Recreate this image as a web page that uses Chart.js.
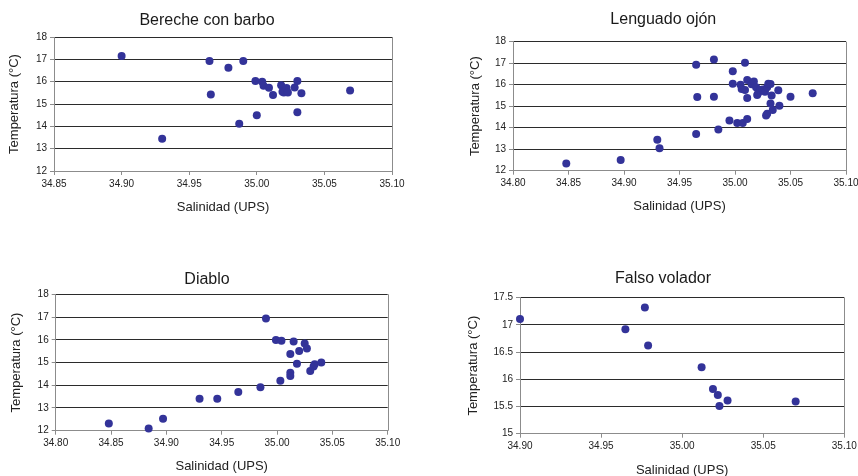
<!DOCTYPE html>
<html>
<head>
<meta charset="utf-8">
<script src="https://cdn.jsdelivr.net/npm/chart.js@4.4.0/dist/chart.umd.min.js"></script>
<style>
body { margin: 0; background: #fff; overflow: hidden; width: 858px; height: 476px; position: relative; }
canvas { position: absolute; }
</style>
</head>
<body>
<canvas id="c1" width="430" height="230" style="left:0px;top:0px"></canvas>
<canvas id="c2" width="428" height="230" style="left:430px;top:0px"></canvas>
<canvas id="c3" width="430" height="233" style="left:0px;top:245px"></canvas>
<canvas id="c4" width="428" height="233" style="left:430px;top:245px"></canvas>
<script>
// titles
const titles = ["Bereche con barbo", "Lenguado ojón", "Diablo", "Falso volador"];
const xTitle = "Salinidad (UPS)";
const yTitle = "Temperatura (°C)";

// tick values
const xTicksA = [34.85, 34.90, 34.95, 35.00, 35.05, 35.10];
const xTicksB = [34.80, 34.85, 34.90, 34.95, 35.00, 35.05, 35.10];
const xTicksC = [34.90, 34.95, 35.00, 35.05, 35.10];
const yTicksA = [12, 13, 14, 15, 16, 17, 18];
const yTicksB = [15, 15.5, 16, 16.5, 17, 17.5];

// Bereche con barbo
const berecheSal = [34.900, 34.930, 34.965, 34.966, 34.979, 34.990, 34.987, 34.999, 35.000, 35.004, 35.005, 35.009,
  35.012, 35.018, 35.019, 35.020, 35.022, 35.023, 35.028, 35.030, 35.033, 35.030, 35.069];
const berecheTemp = [17.15, 13.44, 16.93, 15.43, 16.62, 16.93, 14.12, 16.03, 14.50, 16.00, 15.82, 15.73,
  15.40, 15.84, 15.55, 15.52, 15.72, 15.52, 15.74, 16.03, 15.48, 14.63, 15.60];

// Lenguado ojón
const lenguadoSal = [34.848, 34.897, 34.930, 34.932, 34.965, 34.966, 34.965, 34.981, 34.981, 34.985, 34.995, 34.998,
  34.998, 35.002, 35.005, 35.006, 35.007, 35.009, 35.009, 35.011, 35.011, 35.011, 35.015, 35.017, 35.019, 35.020,
  35.021, 35.023, 35.025, 35.027, 35.029, 35.030, 35.032, 35.033, 35.032, 35.034, 35.028, 35.029, 35.039, 35.040,
  35.050, 35.070];
const lenguadoTemp = [12.33, 12.50, 13.44, 13.04, 16.93, 15.43, 13.71, 17.17, 15.44, 13.92, 14.33, 16.62,
  16.05, 14.22, 16.00, 15.80, 14.22, 17.02, 15.75, 16.22, 15.38, 14.40, 16.02, 16.15, 15.88, 15.52,
  15.62, 15.75, 15.78, 15.67, 15.88, 16.05, 16.03, 15.50, 15.13, 14.82, 14.57, 14.65, 15.74, 15.02,
  15.44, 15.60];

// Diablo
const diabloSal = [34.848, 34.884, 34.897, 34.930, 34.946, 34.965, 34.985, 34.990, 34.999, 35.004, 35.015, 35.003,
  35.012, 35.012, 35.012, 35.020, 35.025, 35.027, 35.018, 35.030, 35.033, 35.034, 35.040];
const diabloTemp = [12.32, 12.10, 12.53, 13.41, 13.41, 13.70, 13.91, 16.93, 15.99, 15.96, 15.92, 14.20,
  15.37, 14.55, 14.41, 15.51, 15.84, 15.62, 14.95, 14.63, 14.82, 14.92, 15.00];

// Falso volador
const falsoSal = [34.900, 34.965, 34.977, 34.979, 35.012, 35.019, 35.022, 35.023, 35.028, 35.070];
const falsoTemp = [17.11, 16.92, 17.32, 16.62, 16.22, 15.82, 15.71, 15.51, 15.61, 15.59];

const FONT = "'Liberation Sans', Arial, sans-serif";
const DOT = "#333399";

// draws the panel title at a fixed spot (Excel centres it on the chart area, not the plot)
const panelTitle = {
  id: "panelTitle",
  afterDraw(chart, args, opts) {
    const ctx = chart.ctx;
    ctx.save();
    ctx.font = "16px " + FONT;
    ctx.fillStyle = "#1a1a1a";
    ctx.textAlign = "center";
    ctx.textBaseline = "middle";
    ctx.fillText(opts.text, opts.x, opts.y);
    // right edge of the plot frame
    const a = chart.chartArea;
    ctx.strokeStyle = "#8c8c8c";
    ctx.lineWidth = 1;
    ctx.beginPath();
    ctx.moveTo(Math.round(a.right) + 0.5, a.top);
    ctx.lineTo(Math.round(a.right) + 0.5, a.bottom);
    ctx.stroke();
    ctx.restore();
  }
};

function makeChart(id, sal, temp, title, xTicks, yTicks, lay) {
  const pts = sal.map((s, i) => ({ x: s, y: temp[i] }));
  const yMin = yTicks[0];
  return new Chart(document.getElementById(id), {
    type: "scatter",
    data: {
      datasets: [{
        data: pts,
        backgroundColor: DOT,
        borderColor: DOT,
        borderWidth: 0,
        pointRadius: 4,
        pointHoverRadius: 4,
        clip: false
      }]
    },
    plugins: [panelTitle],
    options: {
      responsive: false,
      animation: false,
      events: [],
      layout: { padding: { left: lay.pl, right: lay.pr, top: lay.pt, bottom: lay.pb } },
      plugins: {
        legend: { display: false },
        tooltip: { enabled: false },
        panelTitle: { text: title, x: lay.tx, y: lay.ty }
      },
      scales: {
        x: {
          type: "linear",
          min: xTicks[0],
          max: xTicks[xTicks.length - 1],
          afterBuildTicks: (s) => { s.ticks = xTicks.map(v => ({ value: v })); },
          afterFit: (s) => { s.height = lay.xh; s.paddingLeft = 0; s.paddingRight = 0; },
          ticks: {
            callback: (v) => Number(v).toFixed(2),
            font: { family: FONT, size: 10 },
            color: "#222",
            padding: 3,
            maxRotation: 0,
            autoSkip: false
          },
          grid: { drawOnChartArea: false, drawTicks: true, tickLength: 4, tickColor: "#8c8c8c" },
          border: { color: "#8c8c8c", width: 1 },
          title: {
            display: true, text: xTitle, color: "#222",
            font: { family: FONT, size: 13, lineHeight: 1.2 },
            padding: { top: 0, bottom: 0 }
          }
        },
        y: {
          type: "linear",
          min: yTicks[0],
          max: yTicks[yTicks.length - 1],
          afterBuildTicks: (s) => { s.ticks = yTicks.map(v => ({ value: v })); },
          afterFit: (s) => { s.width = lay.yw; s.paddingTop = 0; s.paddingBottom = 0; },
          ticks: {
            callback: (v) => String(v),
            font: { family: FONT, size: 10 },
            color: "#222",
            padding: 3,
            autoSkip: false
          },
          grid: {
            color: (c) => (c.tick && c.tick.value === yMin ? "rgba(0,0,0,0)" : "#2b2b2b"),
            drawTicks: true, tickLength: 4, tickColor: "#8c8c8c"
          },
          border: { color: "#8c8c8c", width: 1 },
          title: {
            display: true, text: yTitle, color: "#222",
            font: { family: FONT, size: 13, lineHeight: 1.2 },
            padding: { top: 0, bottom: 0 }
          }
        }
      }
    }
  });
}

makeChart("c1", berecheSal, berecheTemp, titles[0], xTicksA, yTicksA,
  { pl: 6.2, yw: 47.8, pr: 38, pt: 37, xh: 43.8, pb: 15.2, tx: 207, ty: 21 });
makeChart("c2", lenguadoSal, lenguadoTemp, titles[1], xTicksB, yTicksA,
  { pl: 37.2, yw: 45.8, pr: 12, pt: 41.7, xh: 43.8, pb: 15.5, tx: 233.3, ty: 20 });
makeChart("c3", diabloSal, diabloTemp, titles[2], xTicksB, yTicksA,
  { pl: 8.9, yw: 46.8, pr: 42.3, pt: 49.3, xh: 43.8, pb: 3.5, tx: 207, ty: 35 });
makeChart("c4", falsoSal, falsoTemp, titles[3], xTicksC, yTicksB,
  { pl: 35.2, yw: 54.8, pr: 13.7, pt: 52.7, xh: 44.1, pb: 0.2, tx: 233, ty: 33.3 });
</script>
</body>
</html>
